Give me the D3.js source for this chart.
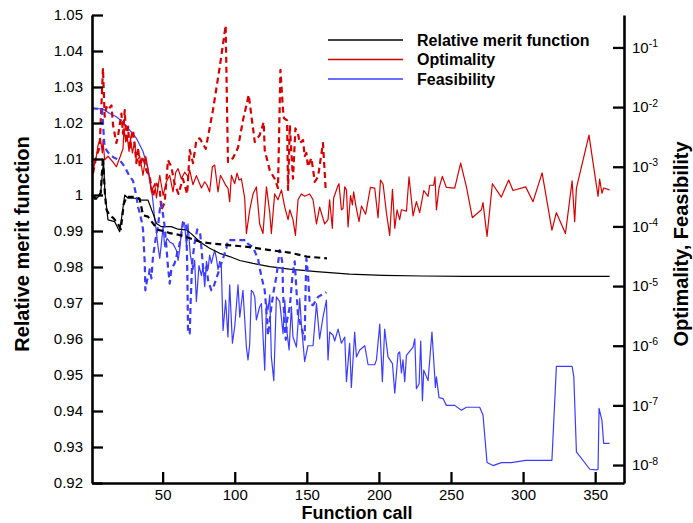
<!DOCTYPE html>
<html><head><meta charset="utf-8">
<script src="https://cdn.jsdelivr.net/npm/d3@7"></script>
<style>
body{margin:0;background:#fff}
text{font-family:"Liberation Sans",Arial,Helvetica,sans-serif}
</style>
</head><body><svg id="c" width="693" height="523"></svg>
<script>
// ---------- data ----------
const legendLabels = ["Relative merit function", "Optimality", "Feasibility"];
const xTickValues = [50, 100, 150, 200, 250, 300, 350];
const meritTickValues = [0.92, 0.93, 0.94, 0.95, 0.96, 0.97, 0.98, 0.99, 1.00, 1.01, 1.02, 1.03, 1.04, 1.05];
const logTickValues = [1e-1, 1e-2, 1e-3, 1e-4, 1e-5, 1e-6, 1e-7, 1e-8];
const logTickExponents = ["-1", "-2", "-3", "-4", "-5", "-6", "-7", "-8"];

// relative merit function, run 1 (solid) and run 2 (dashed)
const meritRun1 = [[1,1.0],[3,0.9988],[5,0.9993],[7,1.0005],[9,1.0095],[10,1.0005],[12.1,0.9931],[16.7,0.9926],[20.2,0.9898],[23.7,1.0],[26,0.9991],[30.6,0.9991],[35.3,0.9986],[39.8,0.9986],[43.3,0.9949],[45.7,0.9921],[49.1,0.9912],[56,0.9912],[60.7,0.9905],[66.5,0.9903],[70,0.9892],[75.7,0.987],[82.6,0.9852],[89.6,0.9838],[96.5,0.9829],[103.5,0.9818],[112.7,0.981],[124.3,0.9801],[138,0.9794],[156.7,0.9787],[179.7,0.978],[202.8,0.9777],[230,0.9775],[260,0.9774],[300,0.9774],[360,0.9774]];
const meritRun2 = [[1,1.0],[4,0.999],[7,1.0005],[8.6,1.0105],[10,1.0],[11,0.996],[13,0.9945],[16,0.9935],[19,0.992],[21,0.9905],[23,0.9975],[25,0.9995],[30,0.9995],[34,0.999],[36.4,0.9944],[39.8,0.994],[43.3,0.9921],[46.8,0.9903],[52.6,0.9898],[54.9,0.9894],[61.8,0.9889],[68.8,0.988],[75.7,0.987],[82.6,0.9866],[95,0.9861],[109,0.9856],[124.3,0.9847],[138,0.984],[150,0.9829],[164,0.9824]];

// optimality, run 1 (solid) and run 2 (dashed)
const optimalityRun1 = [[1,7.8e-4],[3.6,1.3e-3],[5.2,2.3e-3],[6.8,3.0e-3],[8.2,1.7e-3],[8.6,2.8e-3],[9.8,1.3e-3],[12.1,1.5e-3],[15.6,1.2e-3],[17.9,1.0e-3],[20.2,1.4e-3],[22.5,2.0e-3],[23.2,4.4e-3],[24.4,2.6e-3],[25.3,3.4e-3],[26.7,1.8e-3],[27.7,3.0e-3],[29,1.7e-3],[30.6,2.6e-3],[31.8,1.2e-3],[34.1,1.5e-3],[36.4,7.2e-4],[38.3,1.5e-3],[39.8,9.3e-4],[42.2,3.8e-4],[44.5,5.2e-4],[45.7,3.0e-4],[48,7.2e-4],[50.3,3.3e-4],[52.6,5.6e-4],[54.9,7.2e-4],[57.2,3.8e-4],[59.1,8.1e-4],[60.7,9.3e-4],[63,6.3e-4],[65.3,8.1e-4],[67.6,6.8e-4],[68.8,8.7e-4],[71,5.0e-4],[73.4,7.1e-4],[75.7,5.2e-4],[76.9,4.4e-4],[79.2,5.6e-4],[80.8,4.9e-4],[82.6,3.8e-4],[84.5,1.0e-3],[86.1,1.07e-3],[88.4,3.8e-4],[90.1,7.2e-4],[91.9,6.0e-4],[93.7,4.9e-4],[95.3,4.4e-4],[96.5,2.6e-4],[97.7,7.2e-4],[100,5.2e-4],[101.6,7.8e-4],[103,6.0e-4],[104.6,6.3e-4],[106.9,3.0e-4],[108.1,7.6e-5],[110.4,1.9e-4],[112.7,3.5e-4],[115,4.6e-4],[117.3,1.1e-4],[119.6,7.6e-5],[122,4.6e-4],[124.3,1.7e-4],[125.4,7.6e-5],[127.7,3.5e-4],[130,2.8e-4],[132.4,4.1e-4],[134.7,2.1e-4],[137,1.3e-4],[138.2,1.9e-4],[140.4,1.3e-4],[142.1,7.1e-5],[143.9,2.8e-4],[146.2,3.5e-4],[148.5,3.2e-4],[152,3.5e-4],[154.3,2.8e-4],[156.7,1.1e-4],[158.9,2.1e-4],[162.4,1.1e-4],[164.7,1.3e-4],[165.8,2.8e-4],[167.7,9.3e-5],[168.6,3.0e-4],[171.7,4.9e-4],[172.3,5.2e-4],[174,1.9e-4],[175.1,2.0e-4],[176.3,4.6e-4],[177.5,4.1e-4],[178.6,9.8e-5],[180.3,3.3e-4],[181.6,2.3e-4],[182.5,3.8e-4],[183.9,2.3e-4],[186.2,1.2e-4],[187.9,2.2e-4],[190.8,1.6e-4],[194.1,4.5e-4],[197.1,4.4e-4],[199.4,1.4e-4],[201.1,6.0e-4],[202.9,5.1e-4],[205.2,1.7e-4],[207.5,7.1e-5],[209.4,4.2e-4],[211,9.3e-5],[212.6,1.9e-4],[214.4,1.3e-4],[215.6,1.9e-4],[219.1,1.8e-4],[220.9,6.8e-4],[223.7,1.5e-4],[226,2.6e-4],[228.3,1.7e-4],[231.1,4.0e-4],[234.1,3.2e-4],[235.2,4.9e-4],[238,4.9e-4],[238.9,6.8e-4],[239.9,1.9e-4],[241.7,4.4e-4],[244,6.9e-4],[246.8,4.5e-4],[252.6,4.4e-4],[256.7,1.15e-3],[260.7,4.6e-4],[264.8,1.4e-4],[271.1,1.9e-4],[272.2,2.5e-4],[275,6.8e-5],[278.7,5.2e-4],[284.9,3.1e-4],[290,6.0e-4],[293,4.0e-4],[301.8,4.6e-4],[306.9,2.6e-4],[313.2,7.9e-4],[320,8.7e-5],[323.1,1.7e-4],[329.4,7.6e-5],[334,5.8e-4],[335.8,1.2e-4],[337,4.4e-4],[345.7,3.4e-3],[352,3.2e-4],[353.1,6.2e-4],[354.7,3.6e-4],[355.9,4.4e-4],[360,4.1e-4]];
const optimalityRun2 = [[1.7,7.8e-4],[4,1.5e-3],[6.3,2.1e-3],[8.6,4.5e-2],[9.8,6.9e-3],[11,1.0e-2],[12.1,8.9e-3],[14.5,1.07e-2],[15.6,5.0e-3],[17.9,2.5e-3],[19,3.2e-3],[21.4,7.8e-3],[22.5,3.6e-3],[23.7,8.9e-3],[24.9,2.5e-3],[26,4.7e-3],[27.2,1.9e-3],[28.3,3.2e-3],[29.5,4.1e-3],[31.8,1.15e-3],[33,2.1e-3],[34.1,1.0e-3],[36.4,1.5e-3],[38.7,8.7e-4],[41,6.8e-4],[43.3,3.2e-4],[45.7,5.2e-4],[48,4.1e-4],[49.1,1.9e-4],[51.4,2.5e-4],[53.7,1.3e-3],[56,1.0e-3],[58.3,5.2e-4],[61,3.5e-4],[64,6.3e-4],[67,3.5e-4],[68.8,1.9e-3],[71.1,1.15e-3],[73.4,2.8e-3],[75.7,3.0e-3],[79.9,2.0e-3],[84.9,8.9e-3],[89.6,4.7e-2],[93.7,0.234],[95.3,1.2e-3],[98.8,1.4e-3],[102.3,2.1e-3],[105.7,6.0e-3],[109.7,1.6e-2],[113.9,2.6e-3],[117.3,3.4e-3],[120.1,5.6e-3],[120.8,1.9e-3],[124.3,8.7e-4],[127.7,6.3e-4],[130,4.4e-4],[131.7,4.2e-2],[133.5,8.9e-3],[134.2,6.5e-3],[136.3,6.0e-3],[137,4.1e-4],[138.2,5.0e-3],[139.3,1.7e-3],[140.4,6.3e-4],[142.1,4.4e-3],[143.9,3.6e-3],[145.1,2.5e-3],[147.4,2.8e-3],[148.5,1.5e-3],[149.7,1.7e-3],[150.8,1.0e-3],[153.2,1.4e-3],[155.5,5.6e-4],[157.8,6.8e-4],[161.2,2.5e-3],[163.1,4.1e-4]];

// feasibility, run 1 (solid) and run 2 (dashed)
const feasibilityRun1 = [[1,9.5e-3],[8.6,9.3e-3],[13.3,7.8e-3],[17.9,6.9e-3],[22.5,5.6e-3],[27.2,4.1e-3],[31.8,3.0e-3],[36.4,1.8e-3],[39.8,9.3e-4],[42.2,4.4e-4],[43.3,2.6e-4],[44.5,1.35e-4],[45.7,7.9e-5],[46.8,4.6e-5],[48,2.9e-5],[49.1,5.1e-5],[50.3,1.0e-4],[51.4,4.6e-5],[53,6.3e-5],[54.9,5.5e-5],[57.2,5.1e-5],[59.5,4.0e-5],[60.7,2.7e-5],[61.8,4.0e-5],[63.7,1.2e-4],[65.3,1.1e-4],[66.5,4.6e-5],[67.6,1.1e-4],[69.2,3.3e-5],[71.1,1.9e-5],[72.2,2.7e-5],[73.4,5.5e-6],[75.2,2.2e-5],[76.9,1.5e-5],[78,2.1e-5],[79.2,9.8e-6],[80.4,2.6e-5],[81.5,1.9e-5],[82.6,3.3e-5],[83.8,2.4e-5],[84.9,3.1e-5],[86.1,4.0e-5],[87.3,2.9e-5],[88.4,1.9e-5],[89.6,2.6e-5],[90.7,2.1e-5],[91.9,1.8e-6],[93.7,5.8e-6],[95.3,1.4e-6],[96.5,1.05e-5],[98.4,1.1e-6],[100,2.1e-6],[102.3,1.05e-5],[103.5,3.0e-6],[105.7,8.5e-6],[108.1,9.5e-7],[109.2,5.8e-7],[110.4,1.07e-6],[111.5,8.5e-6],[112.7,7.9e-6],[113.9,6.6e-6],[115,2.7e-6],[117.3,4.5e-6],[118.5,5.1e-6],[120.8,3.9e-7],[122,5.1e-6],[123.1,4.0e-6],[124.3,7.1e-6],[125.4,6.5e-7],[127.1,2.6e-7],[128.9,6.6e-6],[131.2,5.5e-6],[133.5,1.6e-6],[134.7,5.8e-6],[135.8,2.1e-6],[137.7,8.5e-7],[139.3,4.5e-6],[140.4,1.4e-6],[142.8,9.5e-7],[145.1,6.2e-6],[146.2,2.3e-6],[148.5,5.4e-7],[150.8,1.0e-6],[154.3,1.0e-6],[156.7,5.1e-6],[158.9,1.3e-6],[161.2,3.0e-6],[163.6,5.8e-6],[164.7,5.8e-7],[165.9,1.7e-6],[168.2,1.5e-6],[169.3,1.2e-6],[171.7,1.9e-6],[174,1.1e-6],[176.3,1.4e-6],[177.5,2.5e-7],[179.7,1.1e-6],[180.9,2.0e-7],[183.2,1.7e-6],[184.4,6.5e-7],[186.7,8.5e-7],[190.2,1.0e-6],[192.5,4.8e-7],[197.1,4.8e-7],[198.3,5.8e-7],[200.6,2.3e-6],[202.4,2.5e-7],[204,1.9e-6],[206.3,6.5e-7],[209.4,5.0e-7],[211,1.6e-7],[213.3,7.4e-7],[214.4,7.9e-7],[215.6,3.5e-7],[216.7,5.8e-7],[217.9,2.5e-7],[219.1,6.9e-7],[223.7,9.5e-7],[224.9,1.3e-6],[226,1.9e-7],[227.9,2.3e-7],[229,1.2e-6],[230.2,1.2e-7],[231.1,3.9e-7],[234.1,2.6e-7],[236.8,1.7e-6],[239.2,2.0e-7],[239.9,3.0e-7],[241.7,1.35e-7],[244.5,1.3e-7],[246.8,1.0e-7],[252.6,1.0e-7],[257.2,8.3e-8],[260.7,9.3e-8],[269.9,9.3e-8],[272.2,6.9e-8],[275,1.1e-8],[279.2,9.8e-9],[284.9,1.1e-8],[291.8,1.1e-8],[301.8,1.2e-8],[320,1.2e-8],[323.1,4.5e-7],[334,4.5e-7],[335.2,3.0e-7],[337,1.66e-8],[346.3,8.5e-9],[350.9,8.3e-9],[352,8.5e-9],[352.7,8.9e-8],[354.7,5.6e-8],[355.9,2.3e-8],[360,2.3e-8]];
const feasibilityRun2 = [[1,9.5e-3],[8,9.3e-3],[9.5,2.5e-3],[11,1.9e-3],[13.3,1.6e-3],[16.7,1.4e-3],[20.2,1.3e-3],[23.7,1.0e-3],[26.7,7.2e-4],[29.5,5.8e-4],[31.8,3.2e-4],[33,2.1e-4],[34.1,1.7e-4],[35.3,1.26e-4],[36.4,8.9e-5],[37.6,2.4e-5],[38,8.5e-6],[39.2,1.26e-5],[40.3,1.45e-5],[41,1.9e-5],[42.2,1.35e-5],[43.3,3.1e-5],[45.7,7.6e-5],[46.8,1.0e-4],[48,1.9e-4],[49.1,2.5e-4],[51.4,1.0e-4],[52.6,4.6e-5],[53.7,2.1e-5],[54.9,1.1e-5],[56,1.9e-5],[58.3,2.4e-5],[60.7,4.0e-5],[61.8,5.1e-5],[64.1,1.1e-4],[65.3,1.2e-4],[66.5,1.0e-4],[67.2,1.26e-5],[67.6,1.6e-6],[68.8,1.6e-6],[69.5,6.3e-6],[70.5,2.5e-5],[72,5.0e-5],[74,8.9e-5],[76,7.9e-5],[78,2.1e-5],[79.2,1.5e-5],[80.4,2.1e-5],[81.5,1.26e-5],[83.8,8.5e-6],[84.9,9.1e-6],[87.3,1.35e-5],[90.7,2.4e-5],[94.2,4.3e-5],[95.3,5.9e-5],[108,5.9e-5],[109.2,5.1e-5],[112.7,4.5e-5],[116.2,2.8e-5],[118.5,1.45e-5],[120.8,8.5e-6],[122,3.8e-6],[123.1,1.5e-6],[124.3,2.7e-6],[125.4,4.5e-6],[127.1,8.5e-6],[128.9,1.45e-5],[131.2,4.0e-5],[131.7,3.8e-5],[133.1,2.4e-5],[133.5,7.6e-6],[134.7,2.1e-6],[135.4,1.26e-6],[136.3,2.7e-6],[138.2,4.5e-6],[140,1.45e-5],[141.6,2.6e-5],[142.8,8.5e-6],[143.9,3.2e-6],[147.4,1.6e-6],[148.5,1.26e-6],[149.2,1.0e-5],[149.7,2.9e-5],[150.8,1.6e-5],[152,5.0e-6],[154.3,4.8e-6],[157.8,6.6e-6],[160.1,7.1e-6],[163.6,7.9e-6]];

// ---------- chart ----------
const svg = d3.select("#c");
const L = 92, R = 624, T = 15, B = 483;
const x = d3.scaleLinear().domain([1, 370]).range([L, R]);
const yL = d3.scaleLinear().domain([0.92, 1.05]).range([B, T]);
const yR = d3.scaleLog().domain([5e-9, 0.35]).range([B, T]);

const colBlack = "#000", colRed = "#d80000", colBlue = "#3c3cff";

const lineL = d3.line().x(d => x(d[0])).y(d => yL(d[1]));
const lineR = d3.line().x(d => x(d[0])).y(d => yR(d[1]));

const g = svg.append("g");
function draw(data, gen, color, dashed) {
  g.append("path").datum(data).attr("d", gen)
    .attr("fill", "none").attr("stroke", color)
    .attr("stroke-width", dashed ? 2.2 : 1.2)
    .attr("stroke-linejoin", "round")
    .attr("stroke-dasharray", dashed ? "6,4" : null);
}
draw(feasibilityRun1, lineR, colBlue, false);
draw(optimalityRun1, lineR, colRed, false);
draw(meritRun1, lineL, colBlack, false);
draw(optimalityRun2, lineR, colRed, true);
draw(feasibilityRun2, lineR, colBlue, true);
draw(meritRun2, lineL, colBlack, true);

// axes
function styleAxis(sel) {
  sel.select(".domain").attr("stroke", "#000").attr("stroke-width", 2.6);
  sel.selectAll(".tick line").attr("stroke", "#000").attr("stroke-width", 2.3);
  sel.selectAll(".tick text").attr("fill", "#000").style("font-size", "15px")
     .style("font-family", "'Liberation Sans', Arial, sans-serif");
}
const ax = svg.append("g").attr("transform", `translate(0,${B})`)
  .call(d3.axisBottom(x).tickValues(xTickValues).tickSizeInner(-11).tickSizeOuter(0).tickPadding(6.5));
styleAxis(ax);
const ayl = svg.append("g").attr("transform", `translate(${L},0)`)
  .call(d3.axisLeft(yL).tickValues(meritTickValues).tickSizeInner(-11).tickSizeOuter(0).tickPadding(9)
    .tickFormat(d => String(+d.toFixed(2))));
styleAxis(ayl);
const ayr = svg.append("g").attr("transform", `translate(${R},0)`)
  .call(d3.axisRight(yR).tickValues(logTickValues).tickSizeInner(-11).tickSizeOuter(0).tickPadding(8)
    .tickFormat(() => ""));
styleAxis(ayr);
ayr.selectAll(".tick text").each(function(d, i) {
  const t = d3.select(this);
  t.text(null);
  t.append("tspan").text("10");
  t.append("tspan").attr("dy", "-0.55em").style("font-size", "10.5px").text(logTickExponents[i]);
});

// axis titles
svg.append("text").attr("x", 357).attr("y", 519.2).attr("text-anchor", "middle")
  .style("font-size", "18px").style("font-weight", "bold").text("Function call");
svg.append("text").attr("transform", "translate(29,244) rotate(-90)").attr("text-anchor", "middle")
  .style("font-size", "20px").style("font-weight", "bold").text("Relative merit function");
svg.append("text").attr("transform", "translate(688,244) rotate(-90)").attr("text-anchor", "middle")
  .style("font-size", "20px").style("font-weight", "bold").text("Optimality, Feasibility");

// legend
const legendColors = [colBlack, colRed, colBlue];
const legendY = [40, 59.5, 79];
legendLabels.forEach((lab, i) => {
  svg.append("line").attr("x1", 328).attr("x2", 403).attr("y1", legendY[i]).attr("y2", legendY[i])
    .attr("stroke", legendColors[i]).attr("stroke-width", 1.3);
  svg.append("text").attr("x", 417).attr("y", legendY[i]).attr("dy", "0.36em")
    .style("font-size", "16px").style("font-weight", "bold").text(lab);
});
</script>
</body></html>
